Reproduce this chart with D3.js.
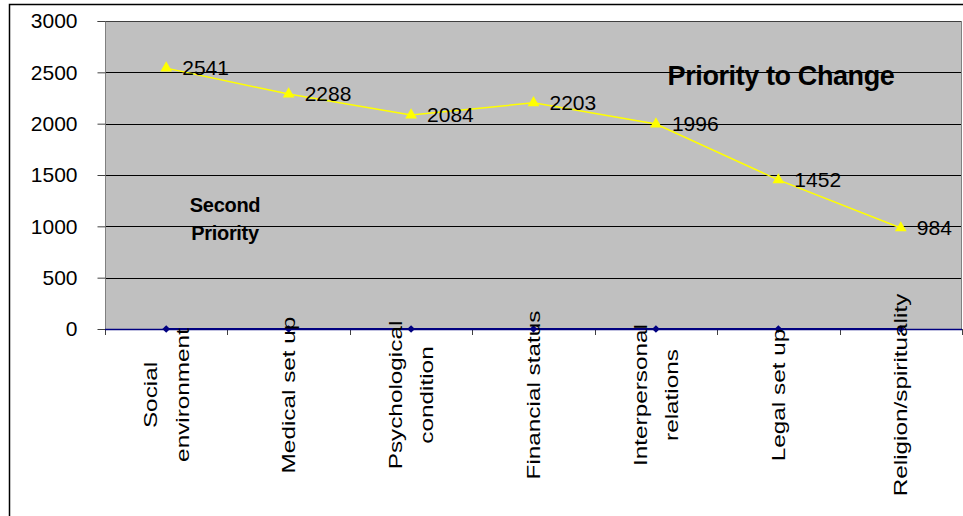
<!DOCTYPE html>
<html>
<head>
<meta charset="utf-8">
<script src="https://cdn.jsdelivr.net/npm/d3@7"></script>
<style>
  body { margin: 0; background: #fff; }
  text { font-family: Arial, "Liberation Sans", sans-serif; }
</style>
</head>
<body>
<script>
// Dados
const categories = [
  ["Social", "environment"],
  ["Medical set up"],
  ["Psychological", "condition"],
  ["Financial status"],
  ["Interpersonal", "relations"],
  ["Legal set up"],
  ["Religion/spirituality"]
];
const secondPriority = [0, 0, 0, 0, 0, 0, 0];
const priorityToChange = [2541, 2288, 2084, 2203, 1996, 1452, 984];
const yTicks = [0, 500, 1000, 1500, 2000, 2500, 3000];

const W = 963, H = 516;
const plotL = 105, plotR = 962, plotT = 21, plotB = 329;

const svg = d3.select("body").append("svg")
    .attr("width", W)
    .attr("height", H);

// Moldura externa
svg.append("rect")
    .attr("x", 9.5).attr("y", 4.5)
    .attr("width", W).attr("height", H)
    .attr("fill", "none")
    .attr("stroke", "#000")
    .attr("stroke-width", 1.5);

const x = d3.scaleBand()
    .domain(d3.range(categories.length))
    .range([plotL, plotR]);

const y = d3.scaleLinear()
    .domain([0, 3000])
    .range([plotB, plotT]);

// Area do grafico
svg.append("rect")
    .attr("x", plotL).attr("y", plotT)
    .attr("width", plotR - plotL).attr("height", plotB - plotT)
    .attr("fill", "#c0c0c0");

// Linhas de grade
svg.append("g").selectAll("line")
    .data(yTicks.filter(d => d > 0))
    .join("line")
    .attr("x1", plotL).attr("x2", plotR)
    .attr("y1", d => Math.round(y(d)) + 0.5)
    .attr("y2", d => Math.round(y(d)) + 0.5)
    .attr("stroke", d => d === 3000 ? "#404040" : "#000")
    .attr("stroke-width", 1);

// Borda direita
svg.append("line")
    .attr("x1", plotR - 0.5).attr("x2", plotR - 0.5)
    .attr("y1", plotT).attr("y2", plotB)
    .attr("stroke", "#808080");

// Eixo Y
const yAxis = svg.append("g")
    .attr("transform", `translate(${plotL + 0.5},0)`)
    .call(d3.axisLeft(y).tickValues(yTicks).tickSize(8).tickPadding(20).tickFormat(d3.format("d")));
yAxis.select(".domain").attr("stroke", "#808080").attr("d", `M-8,${y(3000) + 0.5}H0V${plotB + 6}`);
yAxis.selectAll(".tick line").attr("stroke", "#404040");
yAxis.selectAll(".tick text")
    .attr("font-size", 21)
    .attr("fill", "#000")
    .attr("font-family", "Arial, 'Liberation Sans', sans-serif");

// Eixo X (marcas)
svg.append("g").selectAll("line")
    .data(d3.range(categories.length + 1))
    .join("line")
    .attr("x1", i => Math.round(plotL + i * x.bandwidth()) + 0.5)
    .attr("x2", i => Math.round(plotL + i * x.bandwidth()) + 0.5)
    .attr("y1", plotB).attr("y2", plotB + 6)
    .attr("stroke", "#404040");

// Serie "Second Priority" (zeros)
const cx = i => x(i) + x.bandwidth() / 2;
svg.append("line")
    .attr("x1", plotL).attr("x2", plotR)
    .attr("y1", plotB + 0.5).attr("y2", plotB + 0.5)
    .attr("stroke", "#000080").attr("stroke-width", 1.5);
svg.append("path")
    .datum(secondPriority)
    .attr("d", d3.line().x((d, i) => cx(i)).y(d => y(d)))
    .attr("fill", "none")
    .attr("stroke", "#000080")
    .attr("stroke-width", 2);
svg.append("g").selectAll("path")
    .data(secondPriority)
    .join("path")
    .attr("d", d3.symbol(d3.symbolSquare, 30))
    .attr("transform", (d, i) => `translate(${cx(i)},${y(d)}) rotate(45)`)
    .attr("fill", "#000080");

// Serie "Priority to Change"
svg.append("path")
    .datum(priorityToChange)
    .attr("d", d3.line().x((d, i) => cx(i)).y(d => y(d)))
    .attr("fill", "none")
    .attr("stroke", "#ffff00")
    .attr("stroke-width", 1.5);
svg.append("g").selectAll("path")
    .data(priorityToChange)
    .join("path")
    .attr("d", d3.symbol(d3.symbolTriangle, 60))
    .attr("transform", (d, i) => `translate(${cx(i)},${y(d)})`)
    .attr("fill", "#ffff00");

// Rotulos dos valores
svg.append("g").selectAll("text")
    .data(priorityToChange)
    .join("text")
    .attr("x", (d, i) => cx(i) + 16)
    .attr("y", d => y(d))
    .attr("dy", "0.35em")
    .attr("font-size", 21)
    .text(d => d);

// Rotulos das categorias (rotacionados)
const catG = svg.append("g").selectAll("g")
    .data(categories)
    .join("g")
    .attr("transform", (d, i) => `translate(${cx(i)},395) rotate(-90)`);
catG.selectAll("text")
    .data(d => d.map((t, j) => ({ t, j, n: d.length })))
    .join("text")
    .attr("transform", d => `translate(0,${(d.j - (d.n - 1) / 2) * 31.5}) scale(1.28,1)`)
    .attr("dy", "0.35em")
    .attr("text-anchor", "middle")
    .attr("font-size", 19)
    .text(d => d.t);

// Titulo
svg.append("text")
    .attr("x", 781).attr("y", 85)
    .attr("text-anchor", "middle")
    .attr("font-size", 27)
    .attr("font-weight", "bold")
    .attr("letter-spacing", -0.4)
    .text("Priority to Change");

// Legenda "Second Priority"
svg.append("text")
    .attr("x", 225).attr("y", 212)
    .attr("text-anchor", "middle")
    .attr("font-size", 20)
    .attr("font-weight", "bold")
    .attr("letter-spacing", -0.3)
    .selectAll("tspan")
    .data(["Second", "Priority"])
    .join("tspan")
    .attr("x", 225)
    .attr("dy", (d, i) => i === 0 ? 0 : 28)
    .text(d => d);
</script>
</body>
</html>
